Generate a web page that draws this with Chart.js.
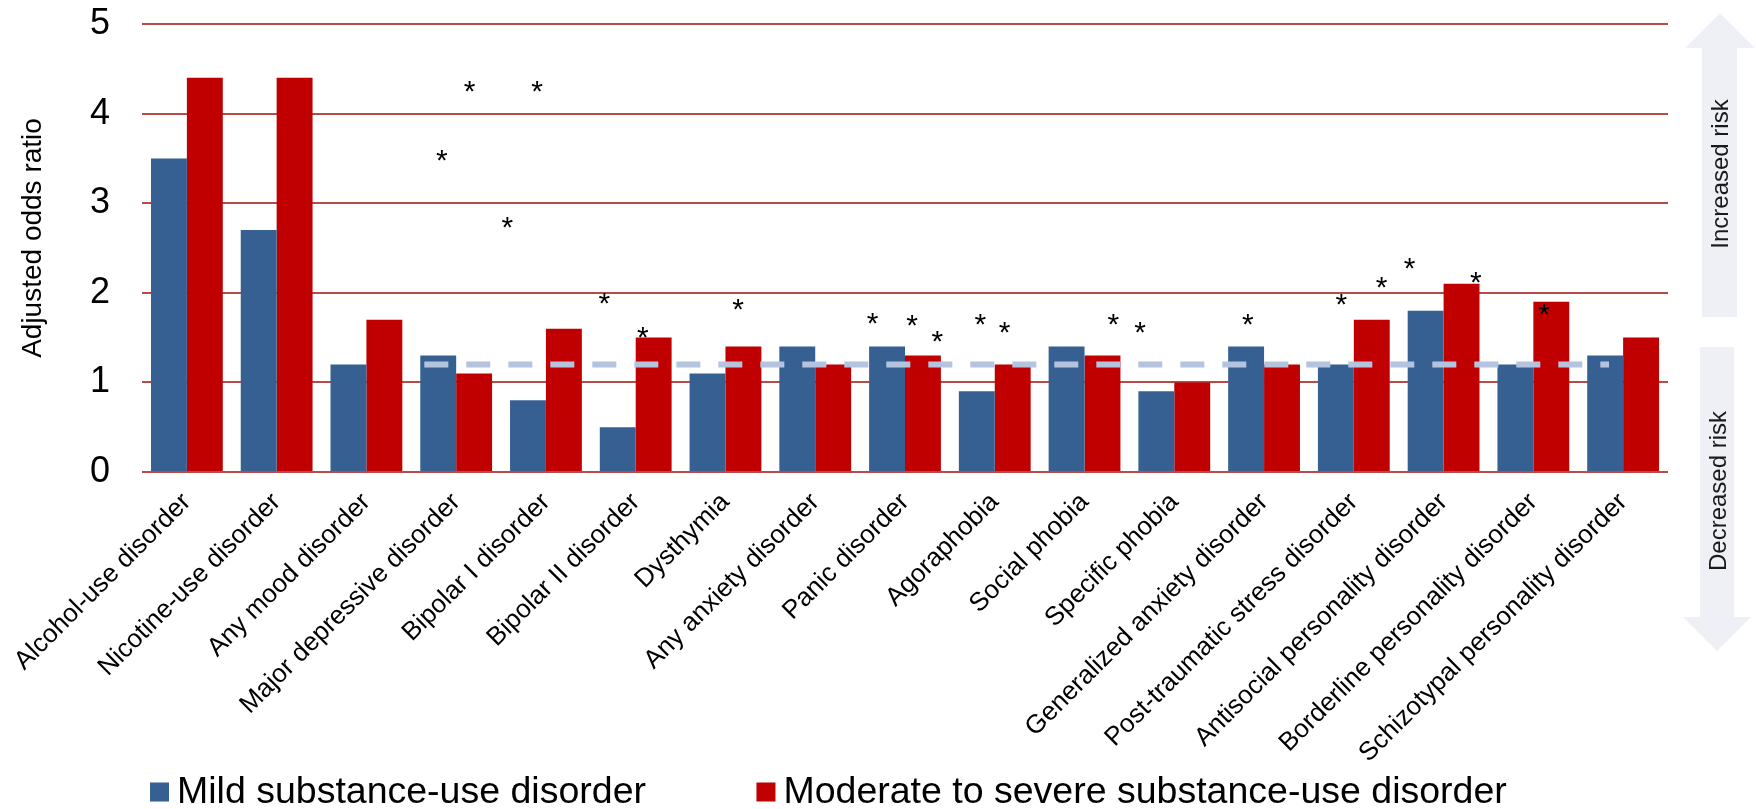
<!DOCTYPE html>
<html>
<head>
<meta charset="utf-8">
<script src="https://cdn.jsdelivr.net/npm/chart.js@4.4.1/dist/chart.umd.min.js"></script>
<style>
  html, body { margin: 0; padding: 0; background: #ffffff; }
  #wrap { width: 1756px; height: 809px; position: relative; }
</style>
</head>
<body>
<div id="wrap"><canvas id="chart" width="1756" height="809"></canvas></div>
<script>
// Comorbid disorders on the category axis
const categories = [
  'Alcohol-use disorder', 'Nicotine-use disorder', 'Any mood disorder',
  'Major depressive disorder', 'Bipolar I disorder', 'Bipolar II disorder',
  'Dysthymia', 'Any anxiety disorder', 'Panic disorder', 'Agoraphobia',
  'Social phobia', 'Specific phobia', 'Generalized anxiety disorder',
  'Post-traumatic stress disorder', 'Antisocial personality disorder',
  'Borderline personality disorder', 'Schizotypal personality disorder'
];

// Adjusted odds ratios per severity group
const mildValues   = [3.5, 2.7, 1.2, 1.3, 0.8, 0.5, 1.1, 1.4, 1.4, 0.9, 1.4, 0.9, 1.4, 1.2, 1.8, 1.2, 1.3];
const severeValues = [4.4, 4.4, 1.7, 1.1, 1.6, 1.5, 1.4, 1.2, 1.3, 1.2, 1.3, 1.0, 1.2, 1.7, 2.1, 1.9, 1.5];

const seriesLabels = ['Mild substance-use disorder', 'Moderate to severe substance-use disorder'];
const yTicks = [0, 1, 2, 3, 4, 5];
const yTitle = 'Adjusted odds ratio';

// Dashed reference level and the stretch of the category axis it covers (index units)
const referenceOdds = 1.2;
const referenceFrom = 2.645;
const referenceTo = 15.843;

// Significance markers: position along the category axis (index units) and odds-ratio height
const starCategoryPos = [3.15, 3.90, 2.84, 3.57, 4.65, 5.08, 6.14, 7.64, 8.08, 8.36,
                         8.84, 9.11, 10.32, 10.62, 11.82, 12.86, 13.31, 13.62, 14.36, 15.12];
const starOdds        = [4.33, 4.33, 3.56, 2.82, 1.97, 1.59, 1.90, 1.75, 1.72, 1.55,
                         1.73, 1.64, 1.73, 1.64, 1.73, 1.96, 2.15, 2.36, 2.20, 1.85];

const FONT = '"Liberation Sans", Arial, Helvetica, sans-serif';
const BLUE = '#376092';
const RED = '#c00000';
const GRID = '#b84a47';

// Dashed horizontal reference line drawn over the bars
const referenceLine = {
  id: 'referenceLine',
  afterDatasetsDraw(chart) {
    const { ctx, scales: { x, y } } = chart;
    const py = y.getPixelForValue(referenceOdds);
    ctx.save();
    ctx.strokeStyle = '#b4c4de';
    ctx.lineWidth = 6;
    ctx.setLineDash([24, 18]);
    ctx.beginPath();
    ctx.moveTo(x.getPixelForValue(referenceFrom), py);
    ctx.lineTo(x.getPixelForValue(referenceTo), py);
    ctx.stroke();
    ctx.restore();
  }
};

// Asterisks marking significant estimates
const starMarkers = {
  id: 'starMarkers',
  afterDatasetsDraw(chart) {
    const { ctx, scales: { x, y } } = chart;
    const size = 30;
    ctx.save();
    ctx.fillStyle = '#000000';
    ctx.font = `${size}px ${FONT}`;
    ctx.textAlign = 'center';
    ctx.textBaseline = 'alphabetic';
    starCategoryPos.forEach((pos, i) => {
      ctx.fillText('*', x.getPixelForValue(pos), y.getPixelForValue(starOdds[i]) + size * 0.58);
    });
    ctx.restore();
  }
};

// Vertical axis title, set slightly above the plot's mid-height
const axisTitle = {
  id: 'axisTitle',
  afterDraw(chart) {
    const { ctx } = chart;
    ctx.save();
    ctx.fillStyle = '#000000';
    ctx.font = `28px ${FONT}`;
    ctx.textAlign = 'center';
    ctx.textBaseline = 'alphabetic';
    ctx.translate(41, 238);
    ctx.rotate(-Math.PI / 2);
    ctx.fillText(yTitle, 0, 0);
    ctx.restore();
  }
};

// Risk-direction arrows at the right margin
const riskArrows = {
  id: 'riskArrows',
  beforeDraw(chart) {
    const { ctx } = chart;
    ctx.save();
    ctx.fillStyle = '#eff0f5';
    // upward arrow
    ctx.beginPath();
    ctx.moveTo(1720, 13);
    ctx.lineTo(1755, 48);
    ctx.lineTo(1737, 48);
    ctx.lineTo(1737, 317);
    ctx.lineTo(1702, 317);
    ctx.lineTo(1702, 48);
    ctx.lineTo(1685, 48);
    ctx.closePath();
    ctx.fill();
    // downward arrow
    ctx.beginPath();
    ctx.moveTo(1700, 347);
    ctx.lineTo(1734, 347);
    ctx.lineTo(1734, 617);
    ctx.lineTo(1751, 617);
    ctx.lineTo(1717, 651);
    ctx.lineTo(1683, 617);
    ctx.lineTo(1700, 617);
    ctx.closePath();
    ctx.fill();

    ctx.fillStyle = '#1a1a1a';
    ctx.font = `24px ${FONT}`;
    ctx.textAlign = 'center';
    ctx.textBaseline = 'middle';
    ctx.translate(1721, 174);
    ctx.rotate(-Math.PI / 2);
    ctx.fillText('Increased risk', 0, 0);
    ctx.rotate(Math.PI / 2);
    ctx.translate(-1721, -174);
    ctx.translate(1719, 491);
    ctx.rotate(-Math.PI / 2);
    ctx.fillText('Decreased risk', 0, 0);
    ctx.restore();
  }
};

// Legend row along the bottom edge
const bottomLegend = {
  id: 'bottomLegend',
  afterDraw(chart) {
    const { ctx } = chart;
    const box = 19, gap = 8, itemGap = 110.5, cy = 792;
    let xPos = 150;
    ctx.save();
    ctx.font = `37.5px ${FONT}`;
    ctx.textBaseline = 'middle';
    ctx.textAlign = 'left';
    chart.data.datasets.forEach(ds => {
      ctx.fillStyle = ds.backgroundColor;
      ctx.fillRect(xPos, cy - box / 2, box, box);
      ctx.fillStyle = '#000000';
      ctx.fillText(ds.label, xPos + box + gap, cy + 1);
      xPos += box + gap + ctx.measureText(ds.label).width + itemGap;
    });
    ctx.restore();
  }
};

new Chart(document.getElementById('chart'), {
  type: 'bar',
  data: {
    labels: categories,
    datasets: [
      { label: seriesLabels[0], data: mildValues, backgroundColor: BLUE },
      { label: seriesLabels[1], data: severeValues, backgroundColor: RED }
    ]
  },
  options: {
    responsive: false,
    animation: false,
    devicePixelRatio: 1,
    layout: { padding: { top: 24, right: 88, left: 0, bottom: 0 } },
    datasets: { bar: { categoryPercentage: 0.8, barPercentage: 1.0, borderWidth: 0 } },
    plugins: {
      legend: { display: false },
      tooltip: { enabled: false }
    },
    scales: {
      x: {
        grid: { display: false },
        border: { display: false },
        ticks: {
          autoSkip: false,
          maxRotation: 45,
          minRotation: 45,
          padding: 7,
          color: '#000000',
          font: { family: FONT, size: 26 }
        },
        afterFit(scale) { scale.height = 337; }
      },
      y: {
        min: 0,
        max: 5,
        afterBuildTicks(scale) { scale.ticks = yTicks.map(v => ({ value: v })); },
        grid: { color: GRID, lineWidth: 2, drawTicks: false },
        border: { display: false },
        ticks: {
          padding: 32,
          color: '#000000',
          font: { family: FONT, size: 36 }
        },
        afterFit(scale) {
          scale.width = 142;
          scale.paddingTop = 0;
          scale.paddingBottom = 0;
        }
      }
    }
  },
  plugins: [riskArrows, referenceLine, starMarkers, axisTitle, bottomLegend]
});
</script>
</body>
</html>
